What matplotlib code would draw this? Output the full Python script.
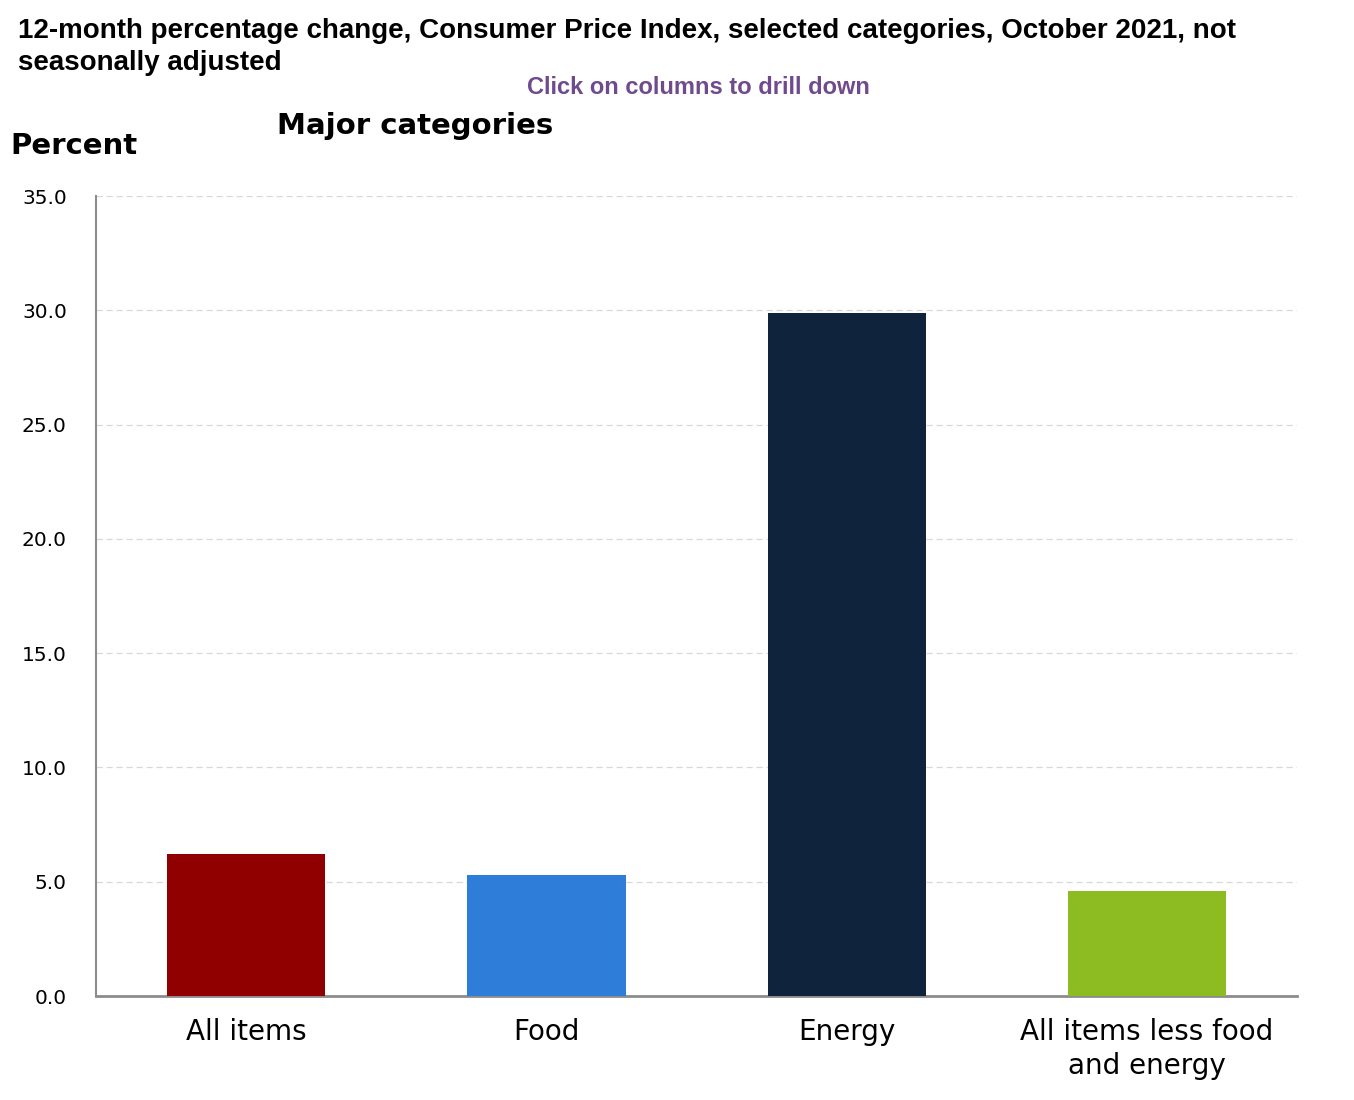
import matplotlib.pyplot as plt

categories = ["All items", "Food", "Energy", "All items less food\nand energy"]
values = [6.2, 5.3, 29.9, 4.6]
bar_colors = ["#900000", "#2e7ed9", "#0f243c", "#8cbb22"]
y_ticks = [0, 5, 10, 15, 20, 25, 30, 35]


def main():
    fig = plt.figure(figsize=(13.54, 11), dpi=100)
    ax = fig.add_axes([0.0709, 0.0945, 0.8871, 0.7273])

    ax.bar(range(len(categories)), values, width=0.527, color=bar_colors, zorder=3)

    ax.set_xlim(-0.5, len(categories) - 0.5)
    ax.set_ylim(0, 35)
    ax.set_yticks(y_ticks)
    ax.set_yticklabels([f"{v:.1f}" for v in y_ticks], fontsize=14.5)
    ax.set_xticks(range(len(categories)))
    ax.set_xticklabels(categories, fontsize=20, linespacing=1.25)
    ax.tick_params(axis="y", length=0, pad=21)
    ax.tick_params(axis="x", length=0, pad=16)

    ax.grid(axis="y", color="#d8d8d8", linestyle=(0, (5, 3)), linewidth=0.9, zorder=0)
    for side in ["top", "right"]:
        ax.spines[side].set_visible(False)
    ax.spines["left"].set_color("#8c8c8c")
    ax.spines["left"].set_linewidth(1.5)
    ax.spines["bottom"].set_color("#8c8c8c")
    ax.spines["bottom"].set_linewidth(2)

    fig.text(18 / 1354, 1 - 47 / 1100,
             "12-month percentage change, Consumer Price Index, selected categories, October 2021, not\nseasonally adjusted",
             family="Liberation Sans", fontweight="bold", fontsize=20, va="center", ha="left", linespacing=1.28)
    fig.text(698 / 1354, 1 - 88 / 1100, "Click on columns to drill down",
             family="Liberation Sans", fontweight="bold", fontsize=17, color="#6f4a8e", ha="center", va="center")
    fig.text(277 / 1354, 1 - 126 / 1100, "Major categories",
             fontweight="bold", fontsize=21, ha="left", va="center")
    fig.text(10 / 1354, 1 - 146 / 1100, "Percent",
             fontweight="bold", fontsize=21, ha="left", va="center")

    fig.savefig("out.png", dpi=100)


if __name__ == "__main__":
    main()
